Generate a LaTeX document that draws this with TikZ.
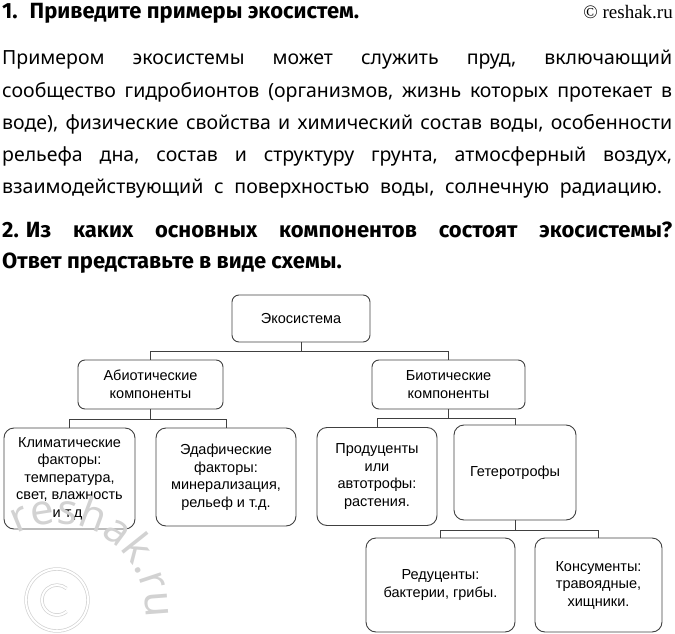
\documentclass[tikz,border=0pt]{standalone}
\usepackage{fontspec}
\setmainfont{Noto Sans}
\newfontfamily\headfont{Fira Sans}
\newfontfamily\boxfont{Liberation Sans}
\newfontfamily\copyfont{Liberation Serif}
\usetikzlibrary{decorations.text}
\frenchspacing

\begin{document}
\begin{tikzpicture}[
      x=1pt, y=-1pt,
      box/.style={rectangle, draw=black!75, line width=0.9pt, rounded corners=7pt,
      align=center, inner sep=2pt, font=\boxfont\fontsize{14.5}{17.5}\selectfont},
      link/.style={draw=black!75, line width=0.9pt},
      txt/.style={anchor=base west, inner sep=0pt, font=\fontsize{19.5}{24}\selectfont},
      head/.style={anchor=base west, inner sep=0pt, font=\headfont\bfseries\fontsize{22}{26}\selectfont},
      wmark/.style={gray!35, line width=0.7pt, double=white, double distance=2pt}
    ]
    \useasboundingbox (0,0) rectangle (675,634);

    % Question 1
    \node[head] (h1) at (2,19) {1.\hspace{12pt}Приведите примеры экосистем.};
    \node[anchor=base east, inner sep=0pt, font=\copyfont\fontsize{19}{22}\selectfont]
    (copy) at (673,19) {© reshak.ru};

    % Answer text
    \node[txt] (p1) at (2,65) {\makebox[670pt][s]{Примером экосистемы может служить пруд, включающий}};
    \node[txt] (p2) at (2,97) {\makebox[670pt][s]{сообщество гидробионтов (организмов, жизнь которых протекает в}};
    \node[txt] (p3) at (2,129) {\makebox[670pt][s]{воде), физические свойства и химический состав воды, особенности}};
    \node[txt] (p4) at (2,161) {\makebox[670pt][s]{рельефа дна, состав и структуру грунта, атмосферный воздух,}};
    \node[txt] (p5) at (2,193) {\makebox[660pt][s]{взаимодействующий с поверхностью воды, солнечную радиацию.}};

    % Question 2
    \node[head] (h2a) at (2,237) {\makebox[670pt][s]{2.\hspace{7pt}Из каких основных компонентов состоят экосистемы?}};
    \node[head] (h2b) at (2,268) {Ответ представьте в виде схемы.};

    % Scheme
    \node[box, minimum width=138pt, minimum height=47pt] (eco) at (301,318.5) {Экосистема};
    \node[box, minimum width=145pt, minimum height=49pt] (abio) at (150.5,384.5) {Абиотические\\компоненты};
    \node[box, minimum width=153pt, minimum height=49pt] (bio) at (448.5,384.5) {Биотические\\компоненты};
    \node[box, rounded corners=10pt, minimum width=131pt, minimum height=101pt] (klim) at (69.5,478.5)
    {Климатические\\факторы:\\температура,\\свет, влажность\\и т.д.};
    \node[box, rounded corners=10pt, minimum width=140pt, minimum height=98pt] (edaph) at (226,477)
    {Эдафические\\факторы:\\минерализация,\\рельеф и т.д.};
    \node[box, rounded corners=10pt, minimum width=120pt, minimum height=98pt] (prod) at (377,476.5)
    {Продуценты\\или\\автотрофы:\\растения.};
    \node[box, rounded corners=10pt, minimum width=122pt, minimum height=95pt] (het) at (515,472.5) {Гетеротрофы};
    \node[box, rounded corners=10pt, minimum width=149pt, minimum height=94pt] (red) at (440.5,585)
    {Редуценты:\\бактерии, грибы.};
    \node[box, rounded corners=10pt, minimum width=127pt, minimum height=94pt] (kons) at (598.5,585)
    {Консументы:\\травоядные,\\хищники.};

    % Links
    \draw[link] (eco.south) -- ++(0,9) coordinate (j0);
    \draw[link] (abio.north) |- (j0) -| (bio.north);
    \draw[link] (abio.south) -- ++(0,10) coordinate (j1);
    \draw[link] (klim.north) |- (j1) -| (edaph.north);
    \draw[link] (bio.south) -- ++(0,9) coordinate (j2);
    \draw[link] (prod.north) |- (j2) -| (het.north);
    \draw[link] (het.south) -- ++(0,10) coordinate (j3);
    \draw[link] (red.north) |- (j3) -| (kons.north);

    % Watermark
    \path[decorate, decoration={text along path, text align=left,
    text={|\color{gray!35}\fontsize{42}{42}\selectfont|reshak.ru}}]
    (58,612) ++(242:88) arc[start angle=242, end angle=372, radius=88];
    \draw[wmark] (57,600) circle[radius=31];
    \draw[wmark] (57,600) ++(50:15) arc[start angle=50, end angle=310, radius=15];

  \end{tikzpicture}
\end{document}
